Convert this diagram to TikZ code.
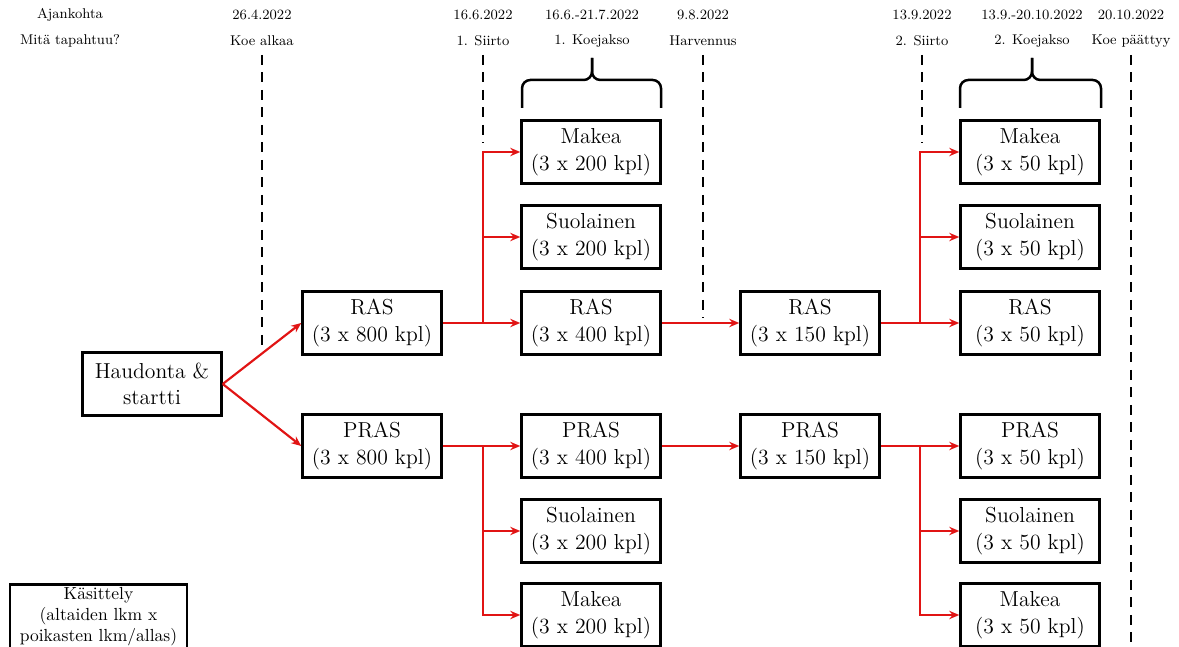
\documentclass[tikz,border=0pt]{standalone}
\usepackage{tikz}
\usetikzlibrary{positioning}
\usetikzlibrary{arrows.meta}

\definecolor{punainen}{RGB}{225,20,20}
\tikzset{
  koe/.style={draw, line width=1.5pt, minimum width=83.4pt, minimum height=37.8pt,
    inner sep=0pt, align=center, font=\fontsize{13}{16}\selectfont},
  aika/.style={inner sep=1pt, font=\fontsize{8.5}{10}\selectfont},
  raja/.style={line width=1.5pt, dash pattern=on 6pt off 4.5pt},
  viiva/.style={punainen, line width=1.3pt},
  nuoli/.style={viiva, -{Stealth[length=6pt,width=5pt]}},
  sulje/.style={line width=1.5pt, rounded corners=5pt}
}

\begin{document}
\begin{tikzpicture}[x=0.6pt,y=-0.6pt]
  \useasboundingbox (0,0) rectangle (1179,647);

  % aikajana
  \node[aika] (ajk) at (70,15) {Ajankohta};
  \node[aika] (mita) at (70,41) {Mitä tapahtuu?};
  \node[aika] (d1) at (262,15) {26.4.2022};
  \node[aika] (t1) at (262,41) {Koe alkaa};
  \node[aika] (d2) at (483,15) {16.6.2022};
  \node[aika] (t2) at (483,41) {1. Siirto};
  \node[aika] (d3) at (592,15) {16.6.-21.7.2022};
  \node[aika] (t3) at (592,41) {1. Koejakso};
  \node[aika] (d4) at (703,15) {9.8.2022};
  \node[aika] (t4) at (703,41) {Harvennus};
  \node[aika] (d5) at (922,15) {13.9.2022};
  \node[aika] (t5) at (922,41) {2. Siirto};
  \node[aika] (d6) at (1032,15) {13.9.-20.10.2022};
  \node[aika] (t6) at (1032,41) {2. Koejakso};
  \node[aika] (d7) at (1131,15) {20.10.2022};
  \node[aika] (t7) at (1131,41) {Koe päättyy};

  \coordinate (t1e) at (262,347);
  \coordinate (t2e) at (483,143);
  \coordinate (t4e) at (703,318);
  \coordinate (t5e) at (922,143);
  \coordinate (t7e) at (1131,660);
  \draw[raja] (262,55) -- (t1e);
  \draw[raja] (483,55) -- (t2e);
  \draw[raja] (703,55) -- (t4e);
  \draw[raja] (922,55) -- (t5e);
  \draw[raja] (1131,55) -- (t7e);

  % koejaksot
  \draw[sulje] (522,108) -- (522,80) -- (592,80) -- (592,58);
  \draw[sulje] (661,108) -- (661,80) -- (592,80) -- (592,58);
  \draw[sulje] (960,108) -- (960,80) -- (1032,80) -- (1032,58);
  \draw[sulje] (1101,108) -- (1101,80) -- (1032,80) -- (1032,58);

  % altaat
  \node[koe] (haud) at (152,384) {Haudonta \&\\startti};
  \node[koe] (ras1) at (372,323) {RAS\\(3 x 800 kpl)};
  \node[koe] (pras1) at (372,446) {PRAS\\(3 x 800 kpl)};

  \node[koe] (mak1) at (591,152) {Makea\\(3 x 200 kpl)};
  \node[koe] (suo1) at (591,237) {Suolainen\\(3 x 200 kpl)};
  \node[koe] (ras2) at (591,323) {RAS\\(3 x 400 kpl)};
  \node[koe] (pras2) at (591,446) {PRAS\\(3 x 400 kpl)};
  \node[koe] (suo2) at (591,531) {Suolainen\\(3 x 200 kpl)};
  \node[koe] (mak2) at (591,615) {Makea\\(3 x 200 kpl)};

  \node[koe] (ras3) at (810,323) {RAS\\(3 x 150 kpl)};
  \node[koe] (pras3) at (810,446) {PRAS\\(3 x 150 kpl)};

  \node[koe] (mak3) at (1030,152) {Makea\\(3 x 50 kpl)};
  \node[koe] (suo3) at (1030,237) {Suolainen\\(3 x 50 kpl)};
  \node[koe] (ras4) at (1030,323) {RAS\\(3 x 50 kpl)};
  \node[koe] (pras4) at (1030,446) {PRAS\\(3 x 50 kpl)};
  \node[koe] (suo4) at (1030,531) {Suolainen\\(3 x 50 kpl)};
  \node[koe] (mak4) at (1030,615) {Makea\\(3 x 50 kpl)};

  \node[koe, minimum width=106pt, minimum height=39pt, font=\fontsize{10.5}{12.6}\selectfont]
    (selite) at (98.5,617) {Käsittely\\(altaiden lkm x\\poikasten lkm/allas)};

  % siirrot
  \coordinate (j1) at (483,323);
  \coordinate (j2) at (483,446);
  \coordinate (j3) at (920,323);
  \coordinate (j4) at (920,446);

  \draw[nuoli] (haud.east) -- (ras1.west);
  \draw[nuoli] (haud.east) -- (pras1.west);

  \draw[viiva] (ras1) -- (j1);
  \draw[nuoli] (j1) |- (mak1);
  \draw[nuoli] (j1) |- (suo1);
  \draw[nuoli] (j1) -- (ras2);
  \draw[viiva] (pras1) -- (j2);
  \draw[nuoli] (j2) -- (pras2);
  \draw[nuoli] (j2) |- (suo2);
  \draw[nuoli] (j2) |- (mak2);

  \draw[nuoli] (ras2) -- (ras3);
  \draw[nuoli] (pras2) -- (pras3);

  \draw[viiva] (ras3) -- (j3);
  \draw[nuoli] (j3) |- (mak3);
  \draw[nuoli] (j3) |- (suo3);
  \draw[nuoli] (j3) -- (ras4);
  \draw[viiva] (pras3) -- (j4);
  \draw[nuoli] (j4) -- (pras4);
  \draw[nuoli] (j4) |- (suo4);
  \draw[nuoli] (j4) |- (mak4);
\end{tikzpicture}
\end{document}
